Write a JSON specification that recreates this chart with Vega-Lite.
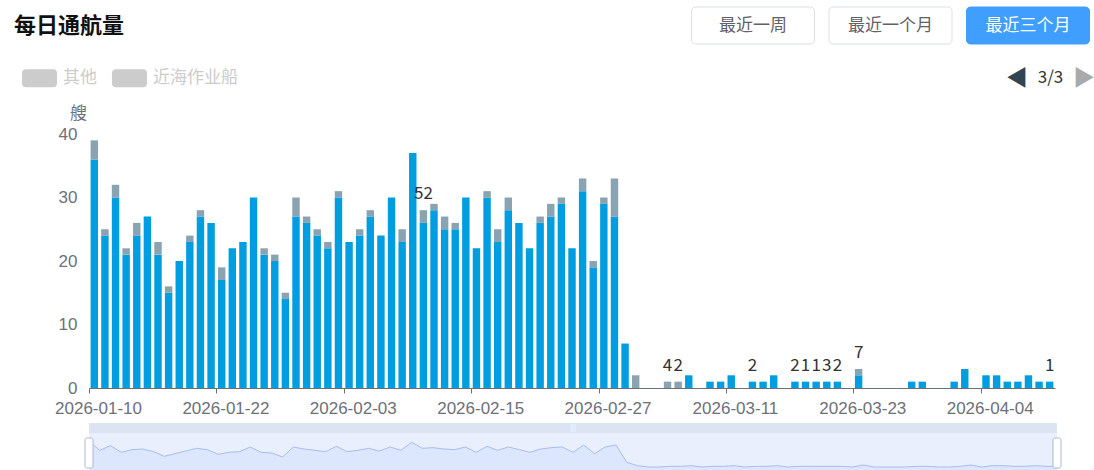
{
  "$schema": "https://vega.github.io/schema/vega-lite/v6.json",
  "background": "white",
  "padding": {"left": 14, "top": 6, "right": 4, "bottom": 0},
  "config": {"font": "Noto Sans CJK SC", "view": {"stroke": null}},
  "datasets": {
    "daily": [
      {"date":"2026-01-10","s1":36,"s2":3},
      {"date":"2026-01-11","s1":24,"s2":1},
      {"date":"2026-01-12","s1":30,"s2":2},
      {"date":"2026-01-13","s1":21,"s2":1},
      {"date":"2026-01-14","s1":24,"s2":2},
      {"date":"2026-01-15","s1":27,"s2":0},
      {"date":"2026-01-16","s1":21,"s2":2},
      {"date":"2026-01-17","s1":15,"s2":1},
      {"date":"2026-01-18","s1":20,"s2":0},
      {"date":"2026-01-19","s1":23,"s2":1},
      {"date":"2026-01-20","s1":27,"s2":1},
      {"date":"2026-01-21","s1":26,"s2":0},
      {"date":"2026-01-22","s1":17,"s2":2},
      {"date":"2026-01-23","s1":22,"s2":0},
      {"date":"2026-01-24","s1":23,"s2":0},
      {"date":"2026-01-25","s1":30,"s2":0},
      {"date":"2026-01-26","s1":21,"s2":1},
      {"date":"2026-01-27","s1":20,"s2":1},
      {"date":"2026-01-28","s1":14,"s2":1},
      {"date":"2026-01-29","s1":27,"s2":3},
      {"date":"2026-01-30","s1":26,"s2":1},
      {"date":"2026-01-31","s1":24,"s2":1},
      {"date":"2026-02-01","s1":22,"s2":1},
      {"date":"2026-02-02","s1":30,"s2":1},
      {"date":"2026-02-03","s1":23,"s2":0},
      {"date":"2026-02-04","s1":24,"s2":1},
      {"date":"2026-02-05","s1":27,"s2":1},
      {"date":"2026-02-06","s1":24,"s2":0},
      {"date":"2026-02-07","s1":30,"s2":0},
      {"date":"2026-02-08","s1":23,"s2":2},
      {"date":"2026-02-09","s1":37,"s2":0},
      {"date":"2026-02-10","s1":26,"s2":2,"label":"52"},
      {"date":"2026-02-11","s1":28,"s2":1},
      {"date":"2026-02-12","s1":25,"s2":2},
      {"date":"2026-02-13","s1":25,"s2":1},
      {"date":"2026-02-14","s1":30,"s2":0},
      {"date":"2026-02-15","s1":22,"s2":0},
      {"date":"2026-02-16","s1":30,"s2":1},
      {"date":"2026-02-17","s1":23,"s2":2},
      {"date":"2026-02-18","s1":28,"s2":2},
      {"date":"2026-02-19","s1":26,"s2":0},
      {"date":"2026-02-20","s1":22,"s2":0},
      {"date":"2026-02-21","s1":26,"s2":1},
      {"date":"2026-02-22","s1":27,"s2":2},
      {"date":"2026-02-23","s1":29,"s2":1},
      {"date":"2026-02-24","s1":22,"s2":0},
      {"date":"2026-02-25","s1":31,"s2":2},
      {"date":"2026-02-26","s1":19,"s2":1},
      {"date":"2026-02-27","s1":29,"s2":1},
      {"date":"2026-02-28","s1":27,"s2":6},
      {"date":"2026-03-01","s1":7,"s2":0},
      {"date":"2026-03-02","s1":0,"s2":2},
      {"date":"2026-03-03","s1":0,"s2":0},
      {"date":"2026-03-04","s1":0,"s2":0},
      {"date":"2026-03-05","s1":0,"s2":1,"label":"4"},
      {"date":"2026-03-06","s1":0,"s2":1,"label":"2"},
      {"date":"2026-03-07","s1":2,"s2":0},
      {"date":"2026-03-08","s1":0,"s2":0},
      {"date":"2026-03-09","s1":1,"s2":0},
      {"date":"2026-03-10","s1":1,"s2":0},
      {"date":"2026-03-11","s1":2,"s2":0},
      {"date":"2026-03-12","s1":0,"s2":0},
      {"date":"2026-03-13","s1":1,"s2":0,"label":"2"},
      {"date":"2026-03-14","s1":1,"s2":0},
      {"date":"2026-03-15","s1":2,"s2":0},
      {"date":"2026-03-16","s1":0,"s2":0},
      {"date":"2026-03-17","s1":1,"s2":0,"label":"2"},
      {"date":"2026-03-18","s1":1,"s2":0,"label":"1"},
      {"date":"2026-03-19","s1":1,"s2":0,"label":"1"},
      {"date":"2026-03-20","s1":1,"s2":0,"label":"3"},
      {"date":"2026-03-21","s1":1,"s2":0,"label":"2"},
      {"date":"2026-03-22","s1":0,"s2":0},
      {"date":"2026-03-23","s1":2,"s2":1,"label":"7"},
      {"date":"2026-03-24","s1":0,"s2":0},
      {"date":"2026-03-25","s1":0,"s2":0},
      {"date":"2026-03-26","s1":0,"s2":0},
      {"date":"2026-03-27","s1":0,"s2":0},
      {"date":"2026-03-28","s1":1,"s2":0},
      {"date":"2026-03-29","s1":1,"s2":0},
      {"date":"2026-03-30","s1":0,"s2":0},
      {"date":"2026-03-31","s1":0,"s2":0},
      {"date":"2026-04-01","s1":1,"s2":0},
      {"date":"2026-04-02","s1":3,"s2":0},
      {"date":"2026-04-03","s1":0,"s2":0},
      {"date":"2026-04-04","s1":2,"s2":0},
      {"date":"2026-04-05","s1":2,"s2":0},
      {"date":"2026-04-06","s1":1,"s2":0},
      {"date":"2026-04-07","s1":1,"s2":0},
      {"date":"2026-04-08","s1":2,"s2":0},
      {"date":"2026-04-09","s1":1,"s2":0},
      {"date":"2026-04-10","s1":1,"s2":0,"label":"1"}
    ],
    "buttons": [
      {"label":"最近一周","state":"off"},
      {"label":"最近一个月","state":"off"},
      {"label":"最近三个月","state":"on"}
    ],
    "pager": [
      {"item":"◀"},
      {"item":"3/3"},
      {"item":"▶"}
    ],
    "legendItems": [
      {"name":"其他"},
      {"name":"近海作业船"}
    ]
  },
  "spacing": 35,
  "bounds": "flush",
  "resolve": {"legend": {"fill": "independent"}, "scale": {"fill": "independent"}},
  "vconcat": [
    {
      "width": 966,
      "height": 37,
      "title": {"text": "每日通航量", "anchor": "start", "frame": "group", "dx": -75, "dy": 53.5, "offset": 0, "baseline": "bottom", "fontSize": 22, "fontWeight": "bold", "color": "#111111"},
      "data": {"name": "buttons"},
      "layer": [
        {
          "mark": {"type": "rect", "cornerRadius": 4, "strokeWidth": 1},
          "encoding": {
            "x": {"field": "label", "type": "nominal", "scale": {"type": "band", "domain": ["最近一周","最近一个月","最近三个月"], "range": [602.5, 1000.5], "paddingInner": 0.105, "paddingOuter": 0}, "axis": null},
            "fill": {"condition": {"test": "datum.state === 'on'", "value": "#409eff"}, "value": "#ffffff"},
            "stroke": {"condition": {"test": "datum.state === 'on'", "value": "#409eff"}, "value": "#dcdfe6"}
          }
        },
        {
          "mark": {"type": "text", "fontSize": 17, "baseline": "middle"},
          "encoding": {
            "x": {"field": "label", "type": "nominal", "axis": null},
            "text": {"field": "label"},
            "color": {"condition": {"test": "datum.state === 'on'", "value": "#ffffff"}, "value": "#606266"}
          }
        }
      ]
    },
    {
      "width": 966,
      "height": 20,
      "layer": [
        {
          "data": {"name": "pager"},
          "mark": {"type": "text", "baseline": "middle", "dy": -11},
          "encoding": {
            "x": {"field": "item", "type": "nominal", "scale": {"type": "point", "domain": ["◀","3/3","▶"], "range": [928, 995], "padding": 0}, "axis": null},
            "text": {"field": "item"},
            "size": {"condition": {"test": "datum.item !== '3/3'", "value": 22}, "value": 17},
            "color": {"condition": [{"test": "datum.item === '◀'", "value": "#2f4554"}, {"test": "datum.item === '▶'", "value": "#aaaaaa"}], "value": "#333333"}
          }
        },
        {
          "data": {"name": "legendItems"},
          "mark": {"type": "point", "filled": true, "opacity": 0, "size": 1225,
            "shape": "M-0.771,-0.514 L0.771,-0.514 Q1,-0.514 1,-0.286 L1,0.286 Q1,0.514 0.771,0.514 L-0.771,0.514 Q-1,0.514 -1,0.286 L-1,-0.286 Q-1,-0.514 -0.771,-0.514 Z"},
          "encoding": {
            "fill": {"field": "name", "type": "nominal", "scale": {"domain": ["其他", "近海作业船"], "range": ["#cccccc", "#cccccc"]},
              "legend": {"orient": "none", "legendX": -67, "legendY": -18.5, "direction": "horizontal", "title": null,
                "labelColor": "#cccccc", "labelFontSize": 17, "labelOffset": 6, "columnPadding": 15, "padding": 0,
                "symbolSize": 1225, "symbolOpacity": 1, "symbolStrokeWidth": 0}}
          }
        }
      ]
    },
    {
      "width": 966,
      "height": 254,
      "data": {"name": "daily"},
      "layer": [
        {
          "transform": [{"fold": ["s1", "s2"], "as": ["series", "count"]}],
          "mark": {"type": "bar"},
          "encoding": {
            "x": {"field": "date", "type": "ordinal",
              "scale": {"type": "band", "paddingInner": 0.3, "paddingOuter": 0.15},
              "axis": {"values": ["2026-01-10","2026-01-22","2026-02-03","2026-02-15","2026-02-27","2026-03-11","2026-03-23","2026-04-04"],
                "bandPosition": 0, "tickOffset": -1.6, "labelOffset": 5.3, "labelAngle": 0, "labelOverlap": false,
                "labelFont": "Liberation Sans", "labelColor": "#6e7079", "labelFontSize": 17, "labelPadding": 7.5,
                "domainColor": "#6e7079", "tickColor": "#6e7079", "tickSize": 5, "title": null, "grid": false}},
            "y": {"field": "count", "type": "quantitative", "stack": "zero",
              "scale": {"domain": [0, 40], "nice": false},
              "axis": {"values": [0, 10, 20, 30, 40], "domain": false, "ticks": false, "grid": false,
                "labelFont": "Liberation Sans", "labelColor": "#6e7079", "labelFontSize": 17, "labelPadding": 12,
                "title": "艘", "titleAngle": 0, "titleX": -11, "titleY": -21, "titleAlign": "center", "titleBaseline": "middle",
                "titleColor": "#6e7079", "titleFontSize": 17, "titleFontWeight": "normal"}},
            "color": {"field": "series", "type": "nominal", "scale": {"domain": ["s1", "s2"], "range": ["#009ee0", "#8aa3b0"]}, "legend": null},
            "order": {"field": "series", "sort": "ascending"}
          }
        },
        {
          "transform": [{"fold": ["s1", "s2"], "as": ["series", "count"]}, {"filter": "isValid(datum.label)"}],
          "mark": {"type": "text", "dy": -16, "baseline": "middle", "fontSize": 17, "color": "#333333"},
          "encoding": {
            "x": {"field": "date", "type": "ordinal"},
            "y": {"aggregate": "sum", "field": "count", "type": "quantitative"},
            "text": {"field": "label"}
          }
        }
      ]
    },
    {
      "width": 968,
      "height": 52,
      "view": {"fill": "#e9effd", "stroke": null},
      "data": {"name": "daily"},
      "layer": [
        {
          "transform": [{"fold": ["s1", "s2"], "as": ["series", "count"]}],
          "mark": {"type": "area", "color": "#d5e2fc", "line": {"color": "#a7bdf3", "strokeWidth": 1}},
          "encoding": {
            "x": {"field": "date", "type": "ordinal", "scale": {"type": "point", "padding": 0}, "axis": null},
            "y": {"aggregate": "sum", "field": "count", "type": "quantitative", "scale": {"domain": [-12, 66], "nice": false, "zero": false}, "axis": null},
            "y2": {"datum": -12}
          }
        },
        {
          "data": {"values": [{"part": "moveHandle", "icon": "|||"}]},
          "layer": [
            {
              "mark": {"type": "rect", "color": "#dce3f2"},
              "encoding": {
                "y": {"datum": 66, "type": "quantitative"},
                "y2": {"datum": 51}
              }
            },
            {
              "mark": {"type": "text", "fontSize": 7, "color": "#ffffff", "baseline": "middle"},
              "encoding": {
                "y": {"datum": 58.5, "type": "quantitative"},
                "text": {"field": "icon"}
              }
            }
          ]
        },
        {
          "transform": [{"filter": "datum.date === '2026-01-10' || datum.date === '2026-04-10'"}],
          "mark": {"type": "tick", "orient": "vertical", "thickness": 8, "size": 30, "color": "#ffffff", "stroke": "#acb8d1", "strokeWidth": 1, "cornerRadius": 2, "opacity": 1},
          "encoding": {
            "x": {"field": "date", "type": "ordinal"},
            "y": {"datum": 21, "type": "quantitative"}
          }
        }
      ]
    }
  ]
}
